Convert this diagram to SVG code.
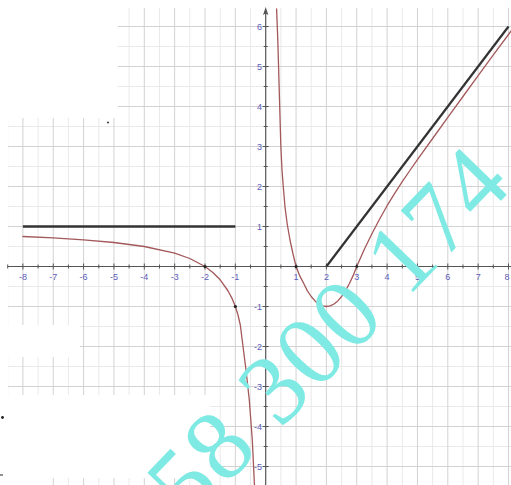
<svg xmlns="http://www.w3.org/2000/svg" width="511" height="485" viewBox="0 0 511 485">
<style>
.gmaj{stroke:#d2d2d2;stroke-width:1;fill:none}
.gmin{stroke:#e9e9e9;stroke-width:1;fill:none}
.axis{stroke:#555;stroke-width:1.2;fill:none}
.tick{stroke:#555;stroke-width:1;fill:none}
.lbl{font-family:"Liberation Sans",Arial,sans-serif;font-size:9px;fill:#5c5cb8}
.xl{text-anchor:middle}
.yl{text-anchor:end}
.curve{stroke:#a3585a;stroke-width:1.3;fill:none;stroke-linejoin:round;stroke-linecap:round}
.blk{stroke:#333;fill:none;stroke-linecap:butt}
.dot{fill:#222}
.wm{font-family:"Liberation Serif","Times New Roman",serif;font-size:100px;fill:#7fe9e3;letter-spacing:2px}
</style>
<defs>
<clipPath id="gc">
<rect x="118" y="8" width="393" height="110"/>
<rect x="8" y="118" width="503" height="207"/>
<rect x="80" y="325" width="431" height="32"/>
<rect x="8" y="357" width="503" height="38"/>
<rect x="210" y="395" width="301" height="83"/>
<rect x="40" y="478" width="471" height="7"/>
</clipPath>
</defs>
<rect width="511" height="485" fill="#fff"/>
<g id="grid" clip-path="url(#gc)">
<path class="gmin" d="M7.7 0V485M38.1 0V485M68.4 0V485M98.8 0V485M129.1 0V485M159.5 0V485M189.8 0V485M220.2 0V485M250.5 0V485M280.9 0V485M311.2 0V485M341.6 0V485M371.9 0V485M402.3 0V485M432.6 0V485M463 0V485M493.3 0V485M0 46.5H511M0 86.5H511M0 126.5H511M0 166.5H511M0 206.5H511M0 246.5H511M0 286.5H511M0 326.5H511M0 366.5H511M0 406.5H511M0 446.5H511"/>
<path class="gmaj" d="M22.9 0V485M53.25 0V485M83.6 0V485M113.95 0V485M144.3 0V485M174.65 0V485M205 0V485M235.35 0V485M296.05 0V485M326.4 0V485M356.75 0V485M387.1 0V485M417.45 0V485M447.8 0V485M478.15 0V485M508.5 0V485M0 26.5H511M0 66.5H511M0 106.5H511M0 146.5H511M0 186.5H511M0 226.5H511M0 306.5H511M0 346.5H511M0 386.5H511M0 426.5H511M0 466.5H511"/>
</g>
<g id="axes">
<path class="axis" d="M8 266.5H511"/>
<path class="axis" d="M265.7 485V12"/>
<path d="M265.7 7L268.4 15L265.7 13.5L263 15Z" fill="#555"/>
<path class="tick" d="M7.7 264.5v4M22.9 263.5v6M38.1 264.5v4M53.25 263.5v6M68.4 264.5v4M83.6 263.5v6M98.8 264.5v4M113.95 263.5v6M129.1 264.5v4M144.3 263.5v6M159.5 264.5v4M174.65 263.5v6M189.8 264.5v4M205 263.5v6M220.2 264.5v4M235.35 263.5v6M250.5 264.5v4M280.9 264.5v4M296.05 263.5v6M311.2 264.5v4M326.4 263.5v6M341.6 264.5v4M356.75 263.5v6M371.9 264.5v4M387.1 263.5v6M402.3 264.5v4M417.45 263.5v6M432.6 264.5v4M447.8 263.5v6M463 264.5v4M478.15 263.5v6M493.3 264.5v4M508.5 263.5v6"/>
<path class="tick" d="M262.7 26.5h6M263.7 46.5h4M262.7 66.5h6M263.7 86.5h4M262.7 106.5h6M263.7 126.5h4M262.7 146.5h6M263.7 166.5h4M262.7 186.5h6M263.7 206.5h4M262.7 226.5h6M263.7 246.5h4M263.7 286.5h4M262.7 306.5h6M263.7 326.5h4M262.7 346.5h6M263.7 366.5h4M262.7 386.5h6M263.7 406.5h4M262.7 426.5h6M263.7 446.5h4M262.7 466.5h6"/>
</g>
<g id="labels" class="lbl">
<text class="xl" x="22.9" y="279.5">-8</text>
<text class="xl" x="53.25" y="279.5">-7</text>
<text class="xl" x="83.6" y="279.5">-6</text>
<text class="xl" x="113.95" y="279.5">-5</text>
<text class="xl" x="144.3" y="279.5">-4</text>
<text class="xl" x="174.65" y="279.5">-3</text>
<text class="xl" x="205" y="279.5">-2</text>
<text class="xl" x="235.35" y="279.5">-1</text>
<text class="xl" x="296.05" y="279.5">1</text>
<text class="xl" x="326.4" y="279.5">2</text>
<text class="xl" x="356.75" y="279.5">3</text>
<text class="xl" x="387.1" y="279.5">4</text>
<text class="xl" x="417.45" y="279.5">5</text>
<text class="xl" x="447.8" y="279.5">6</text>
<text class="xl" x="478.15" y="279.5">7</text>
<text class="xl" x="507" y="279.5">8</text>
<text class="yl" x="262" y="29.8">6</text>
<text class="yl" x="262" y="69.8">5</text>
<text class="yl" x="262" y="109.8">4</text>
<text class="yl" x="262" y="149.8">3</text>
<text class="yl" x="262" y="189.8">2</text>
<text class="yl" x="262" y="229.8">1</text>
<text class="yl" x="262" y="309.8">-1</text>
<text class="yl" x="262" y="349.8">-2</text>
<text class="yl" x="262" y="389.8">-3</text>
<text class="yl" x="262" y="429.8">-4</text>
<text class="yl" x="262" y="469.8">-5</text>
</g>
<g id="connectors">
<path id="asym-h" class="blk" stroke-width="2.6" d="M22.9 226.5H235.35"/>
<path id="asym-d" class="blk" stroke-width="2.2" d="M326.4 266.5L508.5 26.5"/>
<polyline id="branch-left" class="curve" points="22.9,236.5 53.25,237.9 83.6,239.8 113.95,242.5 144.3,246.5 174.65,253.2 189.8,258.5 205,266.5 212.6,272.2 220.2,279.8 227.8,290.5 232.3,298.9 235.35,306.5 238,315 240.3,325 242.2,340 246,370 249.3,400 252.3,440 254.5,486"/>
<polyline id="branch-right" class="curve" points="276.6,9 277.8,40 278.8,75 279.8,110 280.8,145 282,170 283.3,187 285,207 287.2,224 290,240 293,254 296.05,266.5 299.8,275.9 303.99,284 307.4,290.9 311.2,296.5 315,300.9 318.8,304 322.6,305.9 326.4,306.5 330.2,305.9 334,304 337.8,300.9 341.6,296.5 345.4,290.9 349.2,284 353,275.9 356.75,266.5 364.34,249.3 371.93,233.7 379.51,219.3 387.1,205.7 394.69,193.3 402.28,181.7 409.86,170.5 417.45,159.7 432.63,138.5 447.8,117.3 462.98,96.5 478.15,75.7 493.33,54.9 508.5,34.5 511.5,30.4"/>
</g>
<g id="points">
<circle class="dot" cx="205" cy="266.5" r="1.6"/>
<circle class="dot" cx="235.35" cy="306.5" r="1.6"/>
<circle class="dot" cx="296.05" cy="266.5" r="1.6"/>
<circle class="dot" cx="356.75" cy="266.5" r="1.4"/>
<circle class="dot" cx="108" cy="122.5" r="0.9"/>
<circle class="dot" cx="2.5" cy="417.5" r="1.4"/>
<rect class="dot" x="0" y="474.5" width="3" height="1"/>
</g>
<g id="watermark">
<text class="wm" transform="translate(189,524) rotate(-46)">58 300 174</text>
</g>
</svg>
